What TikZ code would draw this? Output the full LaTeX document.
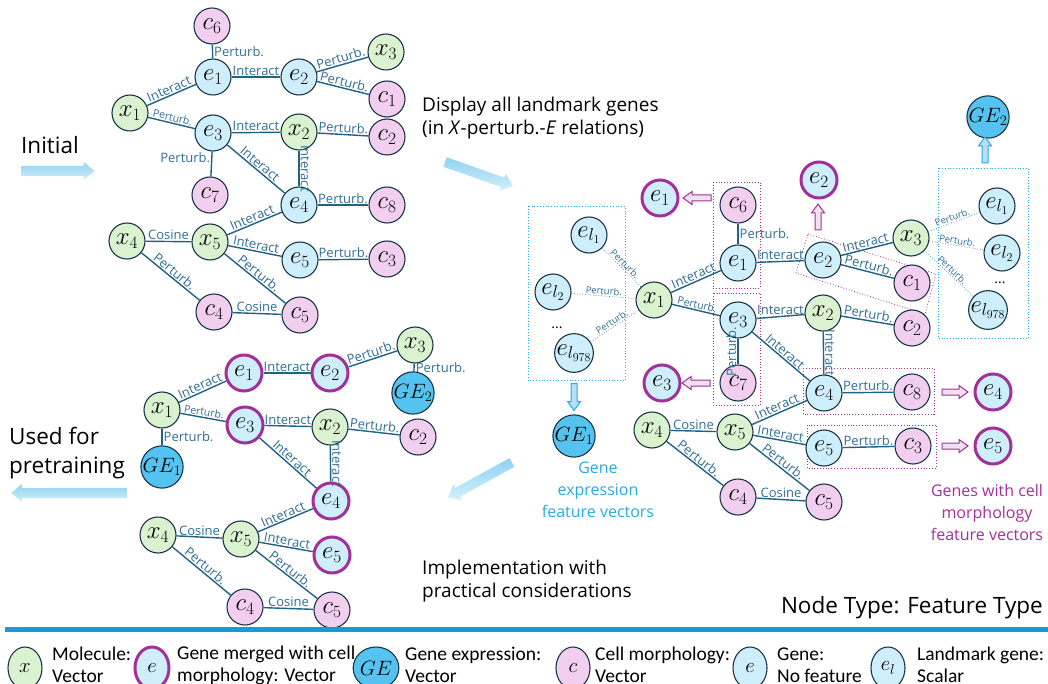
\documentclass[tikz,border=0pt]{standalone}
\usepackage{fontspec}
\setmainfont{Open Sans}
\newfontfamily\narrowfont{Carlito}
\usetikzlibrary{shapes.geometric}

\definecolor{nodeline}{HTML}{1A3446}
\definecolor{edgecol}{HTML}{1E6285}
\definecolor{lblcol}{HTML}{2E6F93}
\definecolor{molfill}{HTML}{DAF2D0}
\definecolor{genefill}{HTML}{CDEEFA}
\definecolor{cellfill}{HTML}{F2CEEF}
\definecolor{exprfill}{HTML}{55C3EF}
\definecolor{merge}{HTML}{A2309A}
\definecolor{boxcyan}{HTML}{2AAAE2}
\definecolor{arrlight}{HTML}{D4EFFA}
\definecolor{arrdark}{HTML}{8ED3F1}
\definecolor{rulecol}{HTML}{179BD7}

\tikzset{
  base/.style={circle, draw=nodeline, line width=1.1pt, minimum size=36pt, inner sep=0pt,
    font=\fontsize{24}{24}\selectfont},
  mol/.style={base, fill=molfill},
  gene/.style={base, fill=genefill},
  cell/.style={base, fill=cellfill},
  expr/.style={base, fill=exprfill, font=\fontsize{20}{20}\selectfont},
  merged/.style={base, fill=genefill, draw=merge, line width=3pt},
  edge/.style={draw=edgecol, line width=1.4pt},
  ldot/.style={draw=edgecol!85, line width=0.7pt, dotted},
  lbl/.style={text=lblcol, font=\fontsize{13}{13}\selectfont, inner sep=1pt},
  small/.style={lbl, font=\fontsize{10.5}{10.5}\selectfont},
  tiny/.style={lbl, font=\fontsize{9.5}{9.5}\selectfont},
  mbox/.style={draw=merge, line width=0.8pt, dotted},
  cbox/.style={draw=boxcyan, line width=0.8pt, dotted},
  bigarr/.style={top color=arrdark, bottom color=arrlight, draw=none},
  harr/.style={fill=merge!15, draw=merge, line width=1pt},
  barr/.style={fill=boxcyan!35, draw=boxcyan, line width=1pt},
  lgd/.style={ellipse, minimum width=34pt, minimum height=42pt, font=\fontsize{20}{20}\selectfont},
  lgdtext/.style={anchor=west, align=left, inner sep=0pt, font=\narrowfont\fontsize{19.5}{22}\selectfont},
  bigtext/.style={align=left, inner sep=0pt, font=\fontsize{22.5}{29}\selectfont},
  midtext/.style={align=left, inner sep=0pt, font=\fontsize{19}{23}\selectfont},
}

% block arrow: style, x, y, angle, length, shaft, head, head length
\newcommand{\blockarrow}[8]{%
  \begin{scope}[shift={(#2,#3)}, rotate=#4]
    \path[#1] ({-#5/2},{-#6/2}) -- ({#5/2-#8},{-#6/2}) -- ({#5/2-#8},{-#7/2}) -- ({#5/2},0)
      -- ({#5/2-#8},{#7/2}) -- ({#5/2-#8},{#6/2}) -- ({-#5/2},{#6/2}) -- cycle;
  \end{scope}}

\begin{document}
\begin{tikzpicture}[x=1pt, y=-1pt]
\useasboundingbox (0,0) rectangle (1048,684);

% initial graph
\node[mol] (ax1) at (130,113) {$x_1$};
\node[cell] (ac6) at (212,26) {$c_6$};
\node[gene] (ae1) at (213,77) {$e_1$};
\node[gene] (ae2) at (299,77) {$e_2$};
\node[mol] (ax3) at (386,52) {$x_3$};
\node[cell] (ac1) at (387,99) {$c_1$};
\node[gene] (ae3) at (213,133) {$e_3$};
\node[mol] (ax2) at (299,132) {$x_2$};
\node[cell] (ac2) at (387,137) {$c_2$};
\node[cell] (ac7) at (210,195) {$c_7$};
\node[gene] (ae4) at (299,205) {$e_4$};
\node[cell] (ac8) at (387,205) {$c_8$};
\node[mol] (ax4) at (127,241) {$x_4$};
\node[mol] (ax5) at (210,242) {$x_5$};
\node[gene] (ae5) at (300,260) {$e_5$};
\node[cell] (ac3) at (387,259) {$c_3$};
\node[cell] (ac4) at (214,312) {$c_4$};
\node[cell] (ac5) at (300,315) {$c_5$};

\draw[edge] (ac6) -- node[lbl, right]{Perturb.} (ae1);
\draw[edge] (ax1) -- node[lbl, sloped, above]{Interact} (ae1);
\draw[edge] (ae1) -- node[lbl, above]{Interact} (ae2);
\draw[edge] (ae2) -- node[lbl, sloped, above]{Perturb.} (ax3);
\draw[edge] (ae2) -- node[lbl, sloped, above]{Perturb.} (ac1);
\draw[edge] (ax1) -- node[small, sloped, above]{Perturb.} (ae3);
\draw[edge] (ae3) -- node[lbl, above]{Interact} (ax2);
\draw[edge] (ax2) -- node[lbl, sloped, above]{Perturb.} (ac2);
\draw[edge] (ae3) -- node[lbl, left, pos=0.25]{Perturb.} (ac7);
\draw[edge] (ae3) -- node[lbl, sloped, above]{Interact} (ae4);
\draw[edge] (ax2) -- node[lbl, rotate=-90, anchor=south]{Interact} (ae4);
\draw[edge] (ae4) -- node[lbl, above]{Perturb.} (ac8);
\draw[edge] (ax4) -- node[lbl, above]{Cosine} (ax5);
\draw[edge] (ax5) -- node[lbl, sloped, above]{Interact} (ae4);
\draw[edge] (ax5) -- node[lbl, sloped, above]{Interact} (ae5);
\draw[edge] (ax5) -- node[lbl, sloped, above]{Perturb.} (ac5);
\draw[edge] (ax4) -- node[lbl, sloped, above]{Perturb.} (ac4);
\draw[edge] (ac4) -- node[lbl, above]{Cosine} (ac5);
\draw[edge] (ae5) -- node[lbl, above]{Perturb.} (ac3);

% graph used for pretraining
\node[mol] (bx1) at (162,410) {$x_1$};
\node[merged] (be1) at (244,373) {$e_1$};
\node[merged] (be2) at (330,373) {$e_2$};
\node[mol] (bx3) at (415,345) {$x_3$};
\node[expr] (bge2) at (413,393) {$GE_2$};
\node[merged] (be3) at (245,425) {$e_3$};
\node[mol] (bx2) at (330,427) {$x_2$};
\node[cell] (bc2) at (418,437) {$c_2$};
\node[expr] (bge1) at (162,467) {$GE_1$};
\node[merged] (be4) at (331,501) {$e_4$};
\node[mol] (bx4) at (158,535) {$x_4$};
\node[mol] (bx5) at (241,539) {$x_5$};
\node[merged] (be5) at (332,555) {$e_5$};
\node[cell] (bc4) at (245,607) {$c_4$};
\node[cell] (bc5) at (332,610) {$c_5$};

\draw[edge] (bx1) -- node[lbl, sloped, above]{Interact} (be1);
\draw[edge] (be1) -- node[lbl, above]{Interact} (be2);
\draw[edge] (be2) -- node[lbl, sloped, above]{Perturb.} (bx3);
\draw[edge] (bx3) -- node[lbl, right]{Perturb.} (bge2);
\draw[edge] (bx1) -- node[small, sloped, above]{Perturb.} (be3);
\draw[edge] (bx1) -- node[lbl, right]{Perturb.} (bge1);
\draw[edge] (be3) -- node[lbl, above]{Interact} (bx2);
\draw[edge] (bx2) -- node[lbl, sloped, above]{Perturb.} (bc2);
\draw[edge] (be3) -- node[lbl, sloped, above]{Interact} (be4);
\draw[edge] (bx2) -- node[lbl, rotate=-90, anchor=south]{Interact} (be4);
\draw[edge] (bx4) -- node[lbl, above]{Cosine} (bx5);
\draw[edge] (bx5) -- node[lbl, sloped, above]{Interact} (be4);
\draw[edge] (bx5) -- node[lbl, sloped, above]{Interact} (be5);
\draw[edge] (bx5) -- node[lbl, sloped, above]{Perturb.} (bc5);
\draw[edge] (bx4) -- node[lbl, sloped, above]{Perturb.} (bc4);
\draw[edge] (bc4) -- node[lbl, above]{Cosine} (bc5);

% graph with all landmark genes
\draw[cbox] (528,206) rectangle (625,380);
\draw[cbox] (938,168) rectangle (1028,338);
\draw[mbox] (713,182) rectangle (760,288);
\draw[mbox] (713,293) rectangle (760,405);
\draw[mbox] (808,234) -- (936,274) -- (925,314) -- (796,273) -- cycle;
\draw[mbox] (803,368) rectangle (934,414);
\draw[mbox] (807,425) rectangle (936,468);

\node[gene] (rel1) at (589,235) {$e_{l_1}$};
\node[gene] (rel2) at (553,292) {$e_{l_2}$};
\node[font=\fontsize{14}{14}\selectfont] (rdots) at (557,328) {...};
\node[gene] (rel978) at (574,353) {$e_{l_{978}}$};
\node[mol] (rx1) at (654,300) {$x_1$};
\node[merged] (rme1) at (660,198) {$e_1$};
\node[cell] (rc6) at (738,205) {$c_6$};
\node[gene] (re1) at (738,263) {$e_1$};
\node[gene] (re3) at (738,320) {$e_3$};
\node[cell] (rc7) at (738,383) {$c_7$};
\node[merged] (rme3) at (662,383) {$e_3$};
\node[expr] (rge1) at (574,436) {$GE_1$};
\node[merged] (rme2) at (819,180) {$e_2$};
\node[gene] (re2) at (823,260) {$e_2$};
\node[mol] (rx3) at (911,238) {$x_3$};
\node[cell] (rc1) at (912,283) {$c_1$};
\node[mol] (rx2) at (823,313) {$x_2$};
\node[cell] (rc2) at (912,328) {$c_2$};
\node[gene] (rfl1) at (997,206) {$e_{l_1}$};
\node[gene] (rfl2) at (1002,253) {$e_{l_2}$};
\node[font=\fontsize{14}{14}\selectfont] (rfdots) at (1000,283) {...};
\node[gene] (rfl978) at (988,310) {$e_{l_{978}}$};
\node[expr] (rge2) at (988,117) {$GE_2$};
\node[gene] (re4) at (824,393) {$e_4$};
\node[cell] (rc8) at (912,392) {$c_8$};
\node[merged] (rme4) at (993,392) {$e_4$};
\node[mol] (rx4) at (652,430) {$x_4$};
\node[mol] (rx5) at (735,432) {$x_5$};
\node[gene] (re5) at (824,448) {$e_5$};
\node[cell] (rc3) at (913,446) {$c_3$};
\node[merged] (rme5) at (993,446) {$e_5$};
\node[cell] (rc4) at (738,497) {$c_4$};
\node[cell] (rc5) at (824,502) {$c_5$};

\draw[ldot] (rel1) -- node[tiny, sloped, above]{Perturb.} (rx1);
\draw[ldot] (rel2) -- node[tiny, sloped, above]{Perturb.} (rx1);
\draw[ldot] (rel978) -- node[tiny, sloped, above]{Perturb.} (rx1);
\draw[edge] (rx1) -- node[lbl, sloped, above]{Interact} (re1);
\draw[edge] (rc6) -- node[lbl, right]{Perturb.} (re1);
\draw[edge] (re1) -- node[lbl, above]{Interact} (re2);
\draw[edge] (rx1) -- node[small, sloped, above]{Perturb.} (re3);
\draw[edge] (re3) -- node[lbl, rotate=90, anchor=south]{Perturb.} (rc7);
\draw[edge] (re3) -- node[lbl, above]{Interact} (rx2);
\draw[edge] (re3) -- node[lbl, sloped, above]{Interact} (re4);
\draw[edge] (rx2) -- node[lbl, rotate=-90, anchor=south]{Interact} (re4);
\draw[edge] (rx2) -- node[lbl, sloped, above]{Perturb.} (rc2);
\draw[edge] (re2) -- node[lbl, sloped, above]{Interact} (rx3);
\draw[edge] (re2) -- node[lbl, sloped, above]{Perturb.} (rc1);
\draw[ldot] (rx3) -- node[tiny, sloped, above]{Perturb.} (rfl1);
\draw[ldot] (rx3) -- node[tiny, sloped, above]{Perturb.} (rfl2);
\draw[ldot] (rx3) -- node[tiny, sloped, above]{Perturb.} (rfl978);
\draw[edge] (re4) -- node[lbl, above]{Perturb.} (rc8);
\draw[edge] (re5) -- node[lbl, above]{Perturb.} (rc3);
\draw[edge] (rx4) -- node[lbl, above]{Cosine} (rx5);
\draw[edge] (rx5) -- node[lbl, sloped, above]{Interact} (re4);
\draw[edge] (rx5) -- node[lbl, sloped, above]{Interact} (re5);
\draw[edge] (rx5) -- node[lbl, sloped, above]{Perturb.} (rc5);
\draw[edge] (rx4) -- node[lbl, sloped, above]{Perturb.} (rc4);
\draw[edge] (rc4) -- node[lbl, above]{Cosine} (rc5);

\blockarrow{harr}{697}{198}{180}{28}{6}{13}{9}
\blockarrow{harr}{696}{383}{180}{28}{6}{13}{9}
\blockarrow{harr}{818}{217}{90}{26}{6}{13}{9}
\blockarrow{harr}{955}{392}{0}{26}{6}{13}{9}
\blockarrow{harr}{955}{446}{0}{26}{6}{13}{9}
\blockarrow{barr}{574}{397}{-90}{27}{6}{13}{9}
\blockarrow{barr}{985}{150}{90}{26}{6}{13}{9}

% texts and big arrows
\node[bigtext, anchor=west] (tinit) at (21,145) {Initial};
\blockarrow{bigarr}{58}{171}{0}{73}{10}{18}{11}
\node[midtext, anchor=west] (tdisp) at (422,118) {Display all landmark genes\\(in \textit{X}-perturb.-\textit{E} relations)};
\blockarrow{bigarr}{479}{174}{-19.4}{72}{10}{18}{11}
\node[midtext, anchor=west] (timpl) at (422,581) {Implementation with\\practical considerations};
\blockarrow{bigarr}{480}{480}{208.7}{73}{10}{18}{11}
\node[bigtext, anchor=west] (tpre) at (9,453) {Used for\\pretraining};
\blockarrow{bigarr}{69}{493}{180}{116}{10}{18}{11}
\node[midtext, align=center, text=boxcyan, font=\fontsize{16}{22}\selectfont] (tge) at (598,490) {Gene\\expression\\feature vectors};
\node[midtext, align=center, text=merge, font=\fontsize{16}{22}\selectfont] (tcm) at (987,512) {Genes with cell\\morphology\\feature vectors};
\node[bigtext, anchor=east] (ttype) at (1043,608) {Node Type: Feature Type};
\draw[rulecol, line width=5pt] (5,629) -- (1048,629);

% legend
\node[mol, lgd] (lx) at (25,668) {$x$};
\node[lgdtext] (tlx) at (52,665) {Molecule:\\Vector};
\node[merged, lgd] (lme) at (152,668) {$e$};
\node[lgdtext] (tlme) at (177,665) {Gene merged with cell\\morphology: Vector};
\node[expr, lgd] (lge) at (376,668) {$GE$};
\node[lgdtext] (tlge) at (405,665) {Gene expression:\\Vector};
\node[cell, lgd] (lc) at (573,668) {$c$};
\node[lgdtext] (tlc) at (595,665) {Cell morphology:\\Vector};
\node[gene, lgd] (le) at (750,668) {$e$};
\node[lgdtext] (tle) at (777,665) {Gene:\\No feature};
\node[gene, lgd] (lel) at (888,668) {$e_l$};
\node[lgdtext] (tlel) at (917,665) {Landmark gene:\\Scalar};
\end{tikzpicture}
\end{document}
